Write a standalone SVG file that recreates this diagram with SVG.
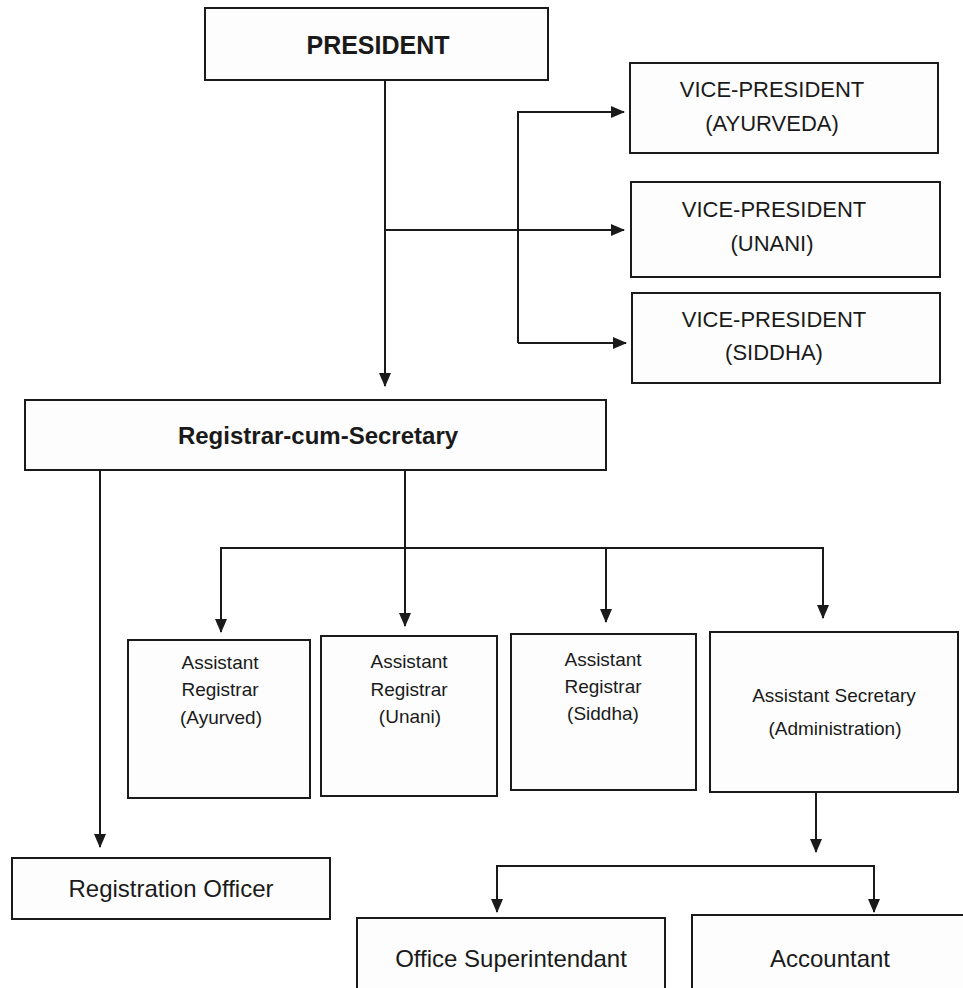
<svg xmlns="http://www.w3.org/2000/svg" width="963" height="988" viewBox="0 0 963 988">
<style>
.box{fill:#fdfdfd;stroke:#1a1a1a;stroke-width:2}
.t{font-family:"Liberation Sans",Arial,sans-serif;fill:#1a1a1a;text-anchor:middle}
.b{font-weight:bold}
.c{fill:none;stroke:#1a1a1a;stroke-width:2}
</style>
<defs>
<marker id="ah" markerWidth="14" markerHeight="12" refX="13" refY="6" orient="auto" markerUnits="userSpaceOnUse">
<path d="M0,0 L14,6 L0,12 z" fill="#1a1a1a"/>
</marker>
</defs>
<rect width="963" height="988" fill="#ffffff"/>
<g id="connectors">
<path class="c" d="M385,80 V386" marker-end="url(#ah)"/>
<path class="c" d="M385,230 H624" marker-end="url(#ah)"/>
<path class="c" d="M518,343 V112 H624" marker-end="url(#ah)"/>
<path class="c" d="M518,343 H626" marker-end="url(#ah)"/>
<path class="c" d="M100,470 V847" marker-end="url(#ah)"/>
<path class="c" d="M405,466 V626" marker-end="url(#ah)"/>
<path class="c" d="M221,632 V548 H823 V618" marker-end="url(#ah)"/>
<path class="c" d="M606,548 V622" marker-end="url(#ah)"/>
<path class="c" d="M221,550 V632" marker-end="url(#ah)"/>
<path class="c" d="M816,792 V852" marker-end="url(#ah)"/>
<path class="c" d="M497,912 V866 H874 V912" marker-end="url(#ah)"/>
<path class="c" d="M497,868 V912" marker-end="url(#ah)"/>
</g>
<g id="president">
<rect class="box" x="205" y="8" width="343" height="72"/>
<text class="t b" x="378" y="54" font-size="25">PRESIDENT</text>
</g>
<g id="vp-ayurveda">
<rect class="box" x="630" y="63" width="308" height="90"/>
<text class="t" x="772" y="97" font-size="22">VICE-PRESIDENT</text>
<text class="t" x="772" y="131" font-size="22">(AYURVEDA)</text>
</g>
<g id="vp-unani">
<rect class="box" x="631" y="182" width="309" height="95"/>
<text class="t" x="774" y="217" font-size="22">VICE-PRESIDENT</text>
<text class="t" x="772" y="251" font-size="22">(UNANI)</text>
</g>
<g id="vp-siddha">
<rect class="box" x="632" y="293" width="308" height="90"/>
<text class="t" x="774" y="327" font-size="22">VICE-PRESIDENT</text>
<text class="t" x="774" y="360" font-size="22">(SIDDHA)</text>
</g>
<g id="registrar">
<rect class="box" x="25" y="400" width="581" height="70"/>
<text class="t b" x="318" y="444" font-size="24">Registrar-cum-Secretary</text>
</g>
<g id="ar-ayurved">
<rect class="box" x="128" y="640" width="182" height="158"/>
<text class="t" x="220" y="669" font-size="19">Assistant</text>
<text class="t" x="220" y="696" font-size="19">Registrar</text>
<text class="t" x="221" y="724" font-size="19">(Ayurved)</text>
</g>
<g id="ar-unani">
<rect class="box" x="321" y="636" width="176" height="160"/>
<text class="t" x="409" y="668" font-size="19">Assistant</text>
<text class="t" x="409" y="696" font-size="19">Registrar</text>
<text class="t" x="410" y="723" font-size="19">(Unani)</text>
</g>
<g id="ar-siddha">
<rect class="box" x="511" y="634" width="185" height="156"/>
<text class="t" x="603" y="666" font-size="19">Assistant</text>
<text class="t" x="603" y="693" font-size="19">Registrar</text>
<text class="t" x="603" y="720" font-size="19">(Siddha)</text>
</g>
<g id="as-admin">
<rect class="box" x="710" y="632" width="248" height="160"/>
<text class="t" x="834" y="702" font-size="19">Assistant Secretary</text>
<text class="t" x="835" y="735" font-size="19">(Administration)</text>
</g>
<g id="registration-officer">
<rect class="box" x="12" y="858" width="318" height="61"/>
<text class="t" x="171" y="897" font-size="24">Registration Officer</text>
</g>
<g id="office-superintendant">
<rect class="box" x="357" y="918" width="308" height="80"/>
<text class="t" x="511" y="967" font-size="24">Office Superintendant</text>
</g>
<g id="accountant">
<rect class="box" x="692" y="915" width="280" height="85"/>
<text class="t" x="830" y="967" font-size="24">Accountant</text>
</g>
</svg>
